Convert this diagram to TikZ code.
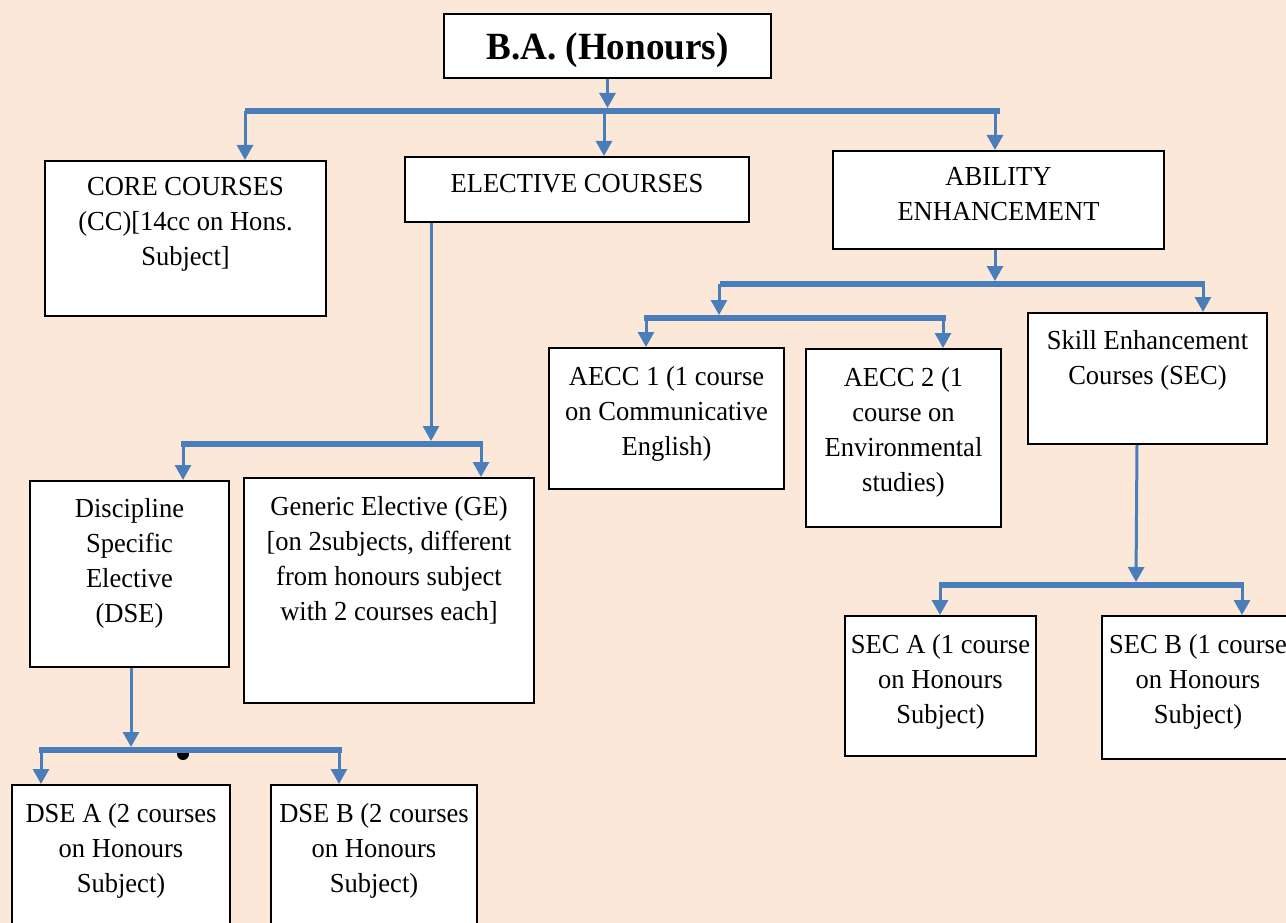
\documentclass[tikz,border=0pt]{standalone}
\usepackage{fontspec}
\setmainfont{Liberation Serif}[FakeStretch=0.965]
\usetikzlibrary{arrows.meta}
\definecolor{bgc}{HTML}{FCE8D9}
\definecolor{lnc}{HTML}{4A7EBB}
\begin{document}
\begin{tikzpicture}[x=1pt,y=-1pt,
 box/.style={draw=black, line width=2pt, fill=white, inner sep=0pt},
 txt/.style={inner sep=0pt, align=center, anchor=north, font=\fontsize{27.5}{35}\selectfont},
 bar/.style={draw=lnc, line width=6pt},
 arr/.style={draw=lnc, line width=3pt, -{Triangle[width=16pt,length=15pt]}}]
\useasboundingbox (0,0) rectangle (1286,923);
\fill[bgc] (0,0) rectangle (1286,923);
\clip (0,0) rectangle (1286,923);

% boxes
\node[box, minimum width=327pt, minimum height=64pt] (ba) at (607.5,46) {};
\node[inner sep=0pt, anchor=base, font=\fontsize{38.5}{40}\selectfont\bfseries] (bat) at (607.5,60) {B.A. (Honours)};

\node[box, minimum width=281pt, minimum height=155pt] (core) at (185.5,238.5) {};
\node[txt] (coret) at ([yshift=-17pt]core.north) {CORE COURSES\\(CC)[14cc on Hons.\\Subject]};

\node[box, minimum width=344pt, minimum height=65pt] (elec) at (577,189.5) {};
\node[txt] (elect) at ([yshift=-18pt]elec.north) {ELECTIVE COURSES};

\node[box, minimum width=331pt, minimum height=98pt] (abil) at (998.5,200) {};
\node[txt] (abilt) at ([yshift=-17pt]abil.north) {ABILITY\\ENHANCEMENT};

\node[box, minimum width=235pt, minimum height=141pt] (aecca) at (666.5,418.5) {};
\node[txt] (aeccat) at ([yshift=-19pt]aecca.north) {AECC 1 (1 course\\on Communicative\\English)};

\node[box, minimum width=195pt, minimum height=178pt] (aeccb) at (903.5,438) {};
\node[txt] (aeccbt) at ([yshift=-19pt]aeccb.north) {AECC 2 (1\\course on\\Environmental\\studies)};

\node[box, minimum width=239pt, minimum height=131pt] (sec) at (1147.5,378.5) {};
\node[txt] (sect) at ([yshift=-18pt]sec.north) {Skill Enhancement\\Courses (SEC)};

\node[box, minimum width=199pt, minimum height=186pt] (dse) at (129.5,574) {};
\node[txt] (dset) at ([yshift=-18pt]dse.north) {Discipline\\Specific\\Elective\\(DSE)};

\node[box, minimum width=290pt, minimum height=225pt] (ge) at (389,590.5) {};
\node[txt] (get) at ([yshift=-19pt]ge.north) {Generic Elective (GE)\\{[}on 2subjects, different\\from honours subject\\with 2 courses each{]}};

\node[box, minimum width=191pt, minimum height=140pt] (seca) at (940.5,686) {};
\node[txt] (secat) at ([yshift=-19pt]seca.north) {SEC A (1 course\\on Honours\\Subject)};

\node[box, minimum width=192pt, minimum height=143pt] (secb) at (1198,687.5) {};
\node[txt] (secbt) at ([yshift=-19pt]secb.north) {SEC B (1 course\\on Honours\\Subject)};

\node[box, minimum width=218pt, minimum height=155pt] (dsea) at (121,862.5) {};
\node[txt] (dseat) at ([yshift=-19pt]dsea.north) {DSE A (2 courses\\on Honours\\Subject)};

\node[box, minimum width=206pt, minimum height=155pt] (dseb) at (374,862.5) {};
\node[txt] (dsebt) at ([yshift=-19pt]dseb.north) {DSE B (2 courses\\on Honours\\Subject)};

% level 1
\coordinate (b1l) at (245,111); \coordinate (b1r) at (1000,111);
\coordinate (b1t) at (607.5,108);
\coordinate (d1a) at (245,111); \coordinate (d1b) at (604,111); \coordinate (d1c) at (995,111);
\draw[bar] (b1l) -- (b1r);
\draw[arr] (ba.south) -- (b1t);
\draw[arr] (d1a) -- (d1a |- core.north);
\draw[arr] (d1b) -- (d1b |- elec.north);
\draw[arr] (d1c) -- (d1c |- abil.north);

% elective
\coordinate (e0) at (431,222); \coordinate (e0t) at (431,441);
\coordinate (b2l) at (181,444); \coordinate (b2r) at (483,444);
\coordinate (d2a) at (183,444); \coordinate (d2b) at (481,444);
\draw[bar] (b2l) -- (b2r);
\draw[arr] (e0 |- elec.south) -- (e0t);
\draw[arr] (d2a) -- (d2a |- dse.north);
\draw[arr] (d2b) -- (d2b |- ge.north);

% ability
\coordinate (a0) at (995,249); \coordinate (a0t) at (995,281);
\coordinate (b3l) at (720,284); \coordinate (b3r) at (1205,284);
\coordinate (d3a) at (719,284); \coordinate (d3at) at (719,315); \coordinate (d3b) at (1203,284);
\draw[bar] (b3l) -- (b3r);
\draw[arr] (a0 |- abil.south) -- (a0t);
\draw[arr] (d3a) -- (d3at);
\draw[arr] (d3b) -- (d3b |- sec.north);

\coordinate (b4l) at (644,318); \coordinate (b4r) at (946,318);
\coordinate (d4a) at (646,318); \coordinate (d4b) at (943,318);
\draw[bar] (b4l) -- (b4r);
\draw[arr] (d4a) -- (d4a |- aecca.north);
\draw[arr] (d4b) -- (d4b |- aeccb.north);

% SEC
\coordinate (s0) at (1137,444); \coordinate (s0t) at (1136,582);
\coordinate (b5l) at (939,585); \coordinate (b5r) at (1244,585);
\coordinate (d5a) at (940,585); \coordinate (d5b) at (1242,585);
\draw[bar] (b5l) -- (b5r);
\draw[arr] (s0 |- sec.south) -- (s0t);
\draw[arr] (d5a) -- (d5a |- seca.north);
\draw[arr] (d5b) -- (d5b |- secb.north);

% DSE
\coordinate (p0) at (131,667); \coordinate (p0t) at (131,747);
\coordinate (b6l) at (39,750); \coordinate (b6r) at (342,750);
\coordinate (d6a) at (41,750); \coordinate (d6b) at (339,750);
\fill[black] (183,754) circle (6pt);
\draw[bar] (b6l) -- (b6r);
\draw[arr] (p0 |- dse.south) -- (p0t);
\draw[arr] (d6a) -- (d6a |- dsea.north);
\draw[arr] (d6b) -- (d6b |- dseb.north);
\end{tikzpicture}
\end{document}
